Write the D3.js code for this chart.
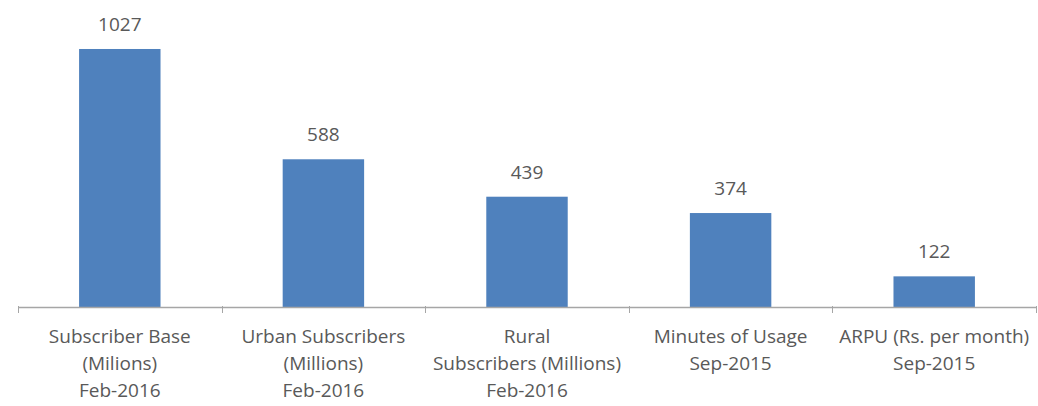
<!DOCTYPE html>
<html>
<head>
<meta charset="utf-8">
<script src="https://cdn.jsdelivr.net/npm/d3@7"></script>
<style>
  html, body { margin: 0; padding: 0; background: #fff; }
  svg { display: block; }
</style>
</head>
<body>
<div id="chart"></div>
<script>
const CATEGORIES = ["sub", "urban", "rural", "mou", "arpu"]
const CATEGORY_LINES = [
  ["Subscriber Base", "(Milions)", "Feb-2016"],
  ["Urban Subscribers", "(Millions)", "Feb-2016"],
  ["Rural", "Subscribers (Millions)", "Feb-2016"],
  ["Minutes of Usage", "Sep-2015"],
  ["ARPU (Rs. per month)", "Sep-2015"]
]
const VALUES = [1027, 588, 439, 374, 122]

const width = 1038
const height = 406
const baseY = 307
const textColor = "#595959"
const barColor = "#4f81bd"
const axisColor = "#a6a6a6"
const font = "'Open Sans', Lato, sans-serif"

const svg = d3.select("#chart")
  .append("svg")
  .attr("width", width)
  .attr("height", height)
  .style("font-family", font)

const x = d3.scaleBand()
  .domain(CATEGORIES)
  .range([18, 1036])
  .paddingInner(0.6)
  .paddingOuter(0.3)

const y = d3.scaleLinear()
  .domain([0, 1222])
  .range([baseY, 0])

// Bars
svg.selectAll(".bar")
  .data(VALUES)
  .enter()
  .append("rect")
  .attr("class", "bar")
  .attr("x", (_, i) => x(CATEGORIES[i]))
  .attr("y", d => y(d))
  .attr("width", x.bandwidth())
  .attr("height", d => baseY - y(d))
  .attr("fill", barColor)

// Value labels
svg.selectAll(".val")
  .data(VALUES)
  .enter()
  .append("text")
  .attr("class", "val")
  .attr("x", (_, i) => x(CATEGORIES[i]) + x.bandwidth() / 2)
  .attr("y", d => y(d) - 18)
  .attr("text-anchor", "middle")
  .attr("fill", textColor)
  .attr("font-size", "19px")
  .text(d => d)

// Axis line + ticks at band boundaries
const [r0, r1] = x.range()
svg.append("line")
  .attr("x1", r0).attr("x2", r1)
  .attr("y1", baseY + 0.5).attr("y2", baseY + 0.5)
  .attr("stroke", axisColor)
  .attr("stroke-width", 1.5)

const boundaries = d3.range(CATEGORIES.length + 1).map(i => r0 + i * x.step())
svg.selectAll(".tick")
  .data(boundaries)
  .enter()
  .append("line")
  .attr("class", "tick")
  .attr("x1", d => Math.round(d) + 0.5).attr("x2", d => Math.round(d) + 0.5)
  .attr("y1", baseY - 1).attr("y2", baseY + 6)
  .attr("stroke", axisColor)
  .attr("stroke-width", 1)

// Category labels
const labels = svg.selectAll(".cat")
  .data(CATEGORY_LINES)
  .enter()
  .append("text")
  .attr("class", "cat")
  .attr("text-anchor", "middle")
  .attr("fill", textColor)
  .attr("font-size", "19px")

labels.selectAll("tspan")
  .data((lines, i) => lines.map(t => ({ t, cx: x(CATEGORIES[i]) + x.bandwidth() / 2 })))
  .enter()
  .append("tspan")
  .attr("x", d => d.cx)
  .attr("y", (_, j) => 343 + j * 27)
  .text(d => d.t)
</script>
</body>
</html>
